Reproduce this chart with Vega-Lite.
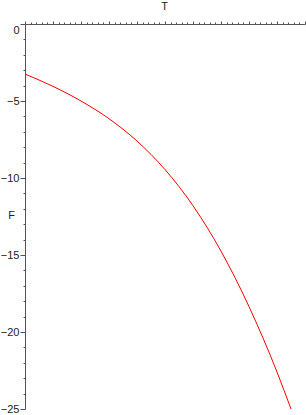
{
  "$schema": "https://vega.github.io/schema/vega-lite/v6.json",
  "width": 280,
  "height": 385,
  "autosize": {"type": "none"},
  "padding": {"left": 25, "top": 24, "right": 1, "bottom": 6},
  "config": {
    "view": {"stroke": null},
    "axis": {
      "grid": false,
      "domainColor": "#555",
      "tickColor": "#555",
      "labelFont": "Liberation Sans",
      "titleFont": "Liberation Sans",
      "labelColor": "#222",
      "titleColor": "#222",
      "labelFontSize": 11,
      "titleFontSize": 11,
      "titleFontWeight": "normal"
    }
  },
  "data": {
    "values": [
      {"T": 0, "F": -3.25},
      {"T": 1, "F": -4.05},
      {"T": 2, "F": -5.0},
      {"T": 3, "F": -6.15},
      {"T": 4, "F": -7.6},
      {"T": 5, "F": -9.45},
      {"T": 6, "F": -11.8},
      {"T": 7, "F": -14.75},
      {"T": 8, "F": -18.35},
      {"T": 9, "F": -22.6},
      {"T": 9.5, "F": -25}
    ]
  },
  "mark": {"type": "line", "color": "red", "strokeWidth": 1, "interpolate": "monotone"},
  "encoding": {
    "x": {
      "field": "T",
      "type": "quantitative",
      "scale": {"domain": [0, 10], "nice": false},
      "axis": {
        "orient": "top",
        "tickCount": 50,
        "labels": false,
        "tickSize": {"condition": {"test": "abs(datum.value - round(datum.value)) < 0.001", "value": 3}, "value": 2},
        "title": "T",
        "titleX": 139,
        "titleY": -18,
        "titleBaseline": "middle",
        "titleAlign": "center"
      }
    },
    "y": {
      "field": "F",
      "type": "quantitative",
      "scale": {"domain": [-25, 0], "nice": false},
      "axis": {
        "tickCount": 25,
        "labelExpr": "datum.value % 5 === 0 ? datum.label : ''",
        "tickSize": {"condition": {"test": "datum.value % 5 === 0", "value": 5}, "value": 2},
        "labelBaseline": {"condition": {"test": "datum.value === 0", "value": "top"}, "value": "middle"},
        "labelPadding": 1,
        "title": "F",
        "titleAngle": 0,
        "titleX": -14,
        "titleY": 191,
        "titleAlign": "center",
        "titleBaseline": "middle"
      }
    }
  }
}
